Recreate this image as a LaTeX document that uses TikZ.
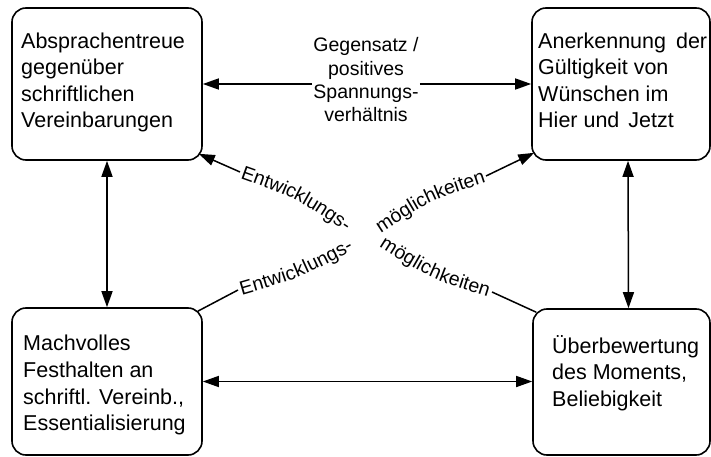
\documentclass[tikz,border=0pt]{standalone}
\usepackage{fontspec}
\setmainfont{Liberation Sans}
\usetikzlibrary{arrows.meta,decorations.text}
\newcommand\boxfont{\fontsize{21.5}{26.6}\selectfont}
\newcommand\labfont{\fontsize{19.5}{23.3}\selectfont}
\newcommand\diagfont{\fontsize{19.5}{23}\selectfont}
\begin{document}
\begin{tikzpicture}[x=1pt,y=-1pt,
  diabox/.style={draw, line width=1.6pt, rounded corners=14pt, inner sep=0pt},
  txt/.style={anchor=north west, inner sep=0pt, align=left, font=\boxfont},
  conn/.style={line width=1.5pt},
  arrowend/.style={-{Triangle[length=16pt,width=11pt]}},
  dblarrow/.style={{Triangle[length=16pt,width=11pt]}-{Triangle[length=16pt,width=11pt]}},
  dtext/.style={decorate, decoration={text along path, text align=center, raise=-6pt}}]
\useasboundingbox (0,0) rectangle (711,457);

% boxes
\node[diabox, minimum width=190pt, minimum height=152pt] (tl) at (107,84) {};
\node[diabox, minimum width=178pt, minimum height=152pt] (tr) at (621,84) {};
\node[diabox, minimum width=190pt, minimum height=147pt] (bl) at (107,381.5) {};
\node[diabox, minimum width=177pt, minimum height=146pt] (br) at (621.5,382) {};

% box texts
\node[txt] (tlt) at (21,28) {\rule{0pt}{20pt}Absprachentreue\\gegenüber\\schriftlichen\\Vereinbarungen};
\node[txt] (trt) at (538,28) {\rule{0pt}{20pt}Anerkennung\hspace{4pt} der\\Gültigkeit von\\Wünschen im\\Hier und\hspace{3pt} Jetzt};
\node[txt] (blt) at (23,330.7) {\rule{0pt}{20pt}Machvolles\\Festhalten an\\schriftl. Vereinb.,\\Essentialisierung};
\node[txt] (brt) at (552,333) {\rule{0pt}{20pt}Überbewertung\\des Moments,\\Beliebigkeit};

% top label
\node[anchor=north, inner sep=1pt, align=center, font=\labfont] (lab) at (366,35.7)
  {\rule{0pt}{15pt}Gegensatz /\\positives\\Spannungs-\\verhältnis};

% straight connectors
\draw[conn, arrowend] (lab.west |- tl.east) -- (tl.east);
\draw[conn, arrowend] (lab.east |- tr.west) -- (tr.west);
\draw[conn, dblarrow] (tl.south) -- (bl.north);
\draw[conn, dblarrow] ([xshift=7pt]tr.south) -- ([xshift=7pt]br.north);
\draw[conn, dblarrow] (bl.east) -- (br.west |- bl.east);

% diagonal connectors
\coordinate (tlc) at ([shift={(-4,-7)}]tl.south east);
\coordinate (trc) at ([shift={(3,-8)}]tr.south west);
\coordinate (blc) at ([shift={(-5,4)}]bl.north east);
\coordinate (brc) at ([shift={(4,4)}]br.north west);

\coordinate (t1s) at (240,172);
\coordinate (t1c) at (299,193);
\coordinate (t1e) at (351,228);
\coordinate (t2s) at (376,229);
\coordinate (t2c) at (427.5,195.3);
\coordinate (t2e) at (486,176);
\coordinate (t3s) at (238,290);
\coordinate (t3c) at (298,272.5);
\coordinate (t3e) at (353,243);
\coordinate (t4s) at (380,240);
\coordinate (t4c) at (432.6,273.3);
\coordinate (t4e) at (492,292);

\draw[conn, arrowend] (t1s) -- (tlc);
\draw[conn] (brc) -- (t4e);
\draw[conn] (blc) -- (t3s);
\draw[conn, arrowend] (t2e) -- (trc);

\path[dtext, decoration={text={|\diagfont|Entwicklungs-}}] (t1s) .. controls (t1c) .. (t1e);
\path[dtext, decoration={text={|\diagfont|möglichkeiten}}] (t2s) .. controls (t2c) .. (t2e);
\path[dtext, decoration={text={|\diagfont|Entwicklungs-}}] (t3s) .. controls (t3c) .. (t3e);
\path[dtext, decoration={text={|\diagfont|möglichkeiten}}] (t4s) .. controls (t4c) .. (t4e);
\end{tikzpicture}
\end{document}
